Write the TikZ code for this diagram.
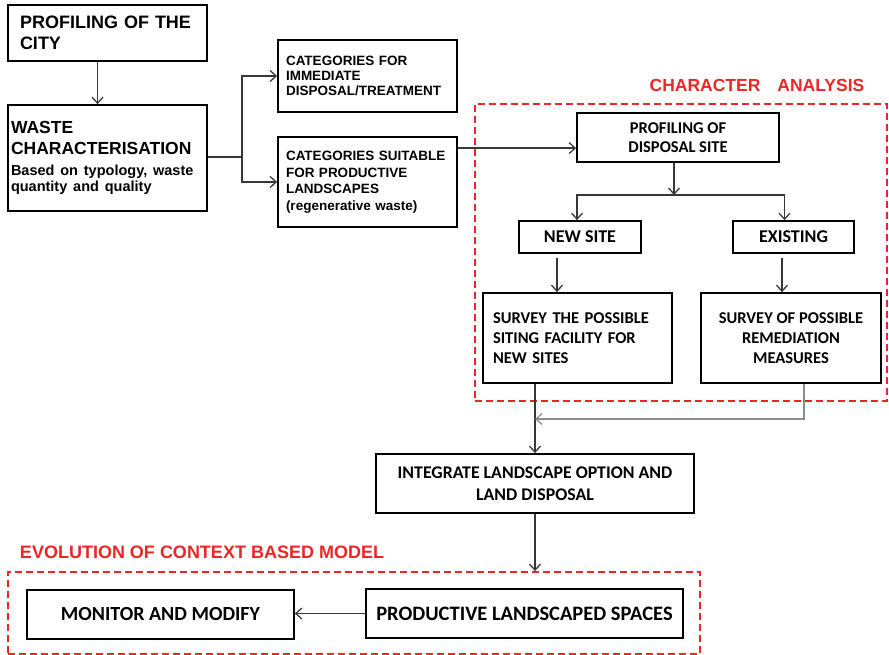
\documentclass[tikz,border=0pt]{standalone}
\usepackage{fontspec}
\usetikzlibrary{arrows.meta}
\setmainfont{Liberation Sans}
\newfontfamily\calibri{Carlito}
\definecolor{markred}{RGB}{236,38,38}
\definecolor{linedark}{RGB}{55,55,55}
\definecolor{linegray}{RGB}{140,140,140}

\begin{document}
\begin{tikzpicture}[x=1pt,y=-1pt]
  \tikzstyle{box}=[rectangle,draw,line width=1.8pt,inner sep=0pt,font=\bfseries]
  \tikzstyle{redbox}=[rectangle,draw=markred,line width=1.8pt,dash pattern=on 7pt off 4pt,inner sep=0pt]
  \tikzstyle{redtitle}=[text=markred,font=\bfseries\fontsize{17.5}{20}\selectfont]
  \tikzstyle{link}=[draw=linedark,line width=1.3pt,-{Straight Barb[length=6pt,width=11pt]}]
  \tikzstyle{graylink}=[link,draw=linegray]
  \useasboundingbox (0,0) rectangle (889,655);

  \node [redbox,minimum width=412pt,minimum height=297pt] (charbox) at (681,252.5) {};
  \node [redbox,minimum width=692pt,minimum height=82pt] (evolbox) at (354,613) {};
  \node [redtitle] (chartitle) at (757,85) {CHARACTER\hspace{17pt}ANALYSIS};
  \node [redtitle,font=\bfseries\fontsize{18}{20}\selectfont] (evoltitle) at (202,552) {EVOLUTION OF CONTEXT BASED MODEL};

  \node [box,text width=175pt,inner xsep=12pt,minimum height=56pt,align=left,font=\bfseries\fontsize{18}{21}\selectfont] (city) at (107.5,33) {PROFILING OF THE\\CITY};
  \node [box,text width=193pt,inner xsep=3pt,minimum height=106pt,align=left,font=\bfseries\fontsize{17.5}{16}\selectfont] (waste) at (107.5,158)
    {WASTE\\[5pt]CHARACTERISATION\\[5pt]\fontsize{14.5}{16}\selectfont Based on typology, waste\\quantity and quality};
  \node [box,text width=163pt,inner xsep=8pt,minimum height=72pt,align=left,font=\bfseries\fontsize{13.5}{15}\selectfont] (cat1) at (367.5,76) {CATEGORIES FOR\\IMMEDIATE\\DISPOSAL/TREATMENT};
  \node [box,text width=163pt,inner xsep=8pt,minimum height=90pt,align=left,font=\bfseries\fontsize{13.5}{16.5}\selectfont] (cat2) at (367.5,182) {CATEGORIES SUITABLE\\FOR PRODUCTIVE\\LANDSCAPES\\(regenerative waste)};

  \node [box,minimum width=202pt,minimum height=49pt,align=center,font=\calibri\bfseries\fontsize{16.5}{19}\selectfont] (site) at (678,137.5) {PROFILING OF\\DISPOSAL SITE};
  \node [box,minimum width=122pt,minimum height=32pt,font=\calibri\bfseries\fontsize{18}{21}\selectfont] (newsite) at (580,237) {NEW SITE};
  \node [box,minimum width=121pt,minimum height=32pt,font=\calibri\bfseries\fontsize{18}{21}\selectfont] (existing) at (793.5,237) {EXISTING};
  \node [box,text width=169pt,inner xsep=10pt,minimum height=90pt,align=left,font=\calibri\bfseries\fontsize{16.5}{20}\selectfont] (survnew) at (577.5,338) {SURVEY THE POSSIBLE\\SITING FACILITY FOR\\NEW SITES};
  \node [box,minimum width=180pt,minimum height=90pt,align=center,font=\calibri\bfseries\fontsize{16.5}{20}\selectfont] (survold) at (791,338) {SURVEY OF POSSIBLE\\REMEDIATION\\MEASURES};

  \node [box,minimum width=318pt,minimum height=59pt,align=center,font=\calibri\bfseries\fontsize{17.8}{22}\selectfont] (integ) at (535,483.5) {INTEGRATE LANDSCAPE OPTION AND\\LAND DISPOSAL};
  \node [box,minimum width=317pt,minimum height=49pt,font=\calibri\bfseries\fontsize{20.5}{24}\selectfont] (prod) at (524.5,613.5) {PRODUCTIVE LANDSCAPED SPACES};
  \node [box,minimum width=267pt,minimum height=49pt,font=\calibri\bfseries\fontsize{20}{24}\selectfont] (monitor) at (160.5,614.5) {MONITOR AND MODIFY};

  \coordinate (split) at (242,157);
  \coordinate (fork) at (674,195);
  \coordinate (merge) at (535,419);

  \draw [link] ([xshift=-10pt]city.south) -- ([xshift=-10pt]waste.north);
  \draw [link,-] (waste.east |- split) -- (split);
  \draw [link] (split) |- (cat1.west);
  \draw [link] (split) |- (cat2.west);
  \draw [link] ([yshift=-12pt]cat2.north east) coordinate (c2) -- (c2 -| site.west);
  \draw [link] (fork |- site.south) -- (fork);
  \draw [link] (fork) -| ([xshift=-3pt]newsite.north);
  \draw [link] (fork) -| ([xshift=-9pt]existing.north);
  \draw [link,shorten <=4pt] ([xshift=-23pt]newsite.south) -- ([xshift=-23pt]newsite.south |- survnew.north);
  \draw [link,shorten <=4pt] ([xshift=-11.5pt]existing.south) -- ([xshift=-11.5pt]existing.south |- survold.north);
  \draw [link] (integ.north |- survnew.south) -- (integ.north);
  \draw [graylink] ([xshift=13pt]survold.south) |- (merge);
  \draw [link] (integ.south) -- (integ.south |- evolbox.north);
  \draw [link] (prod.west) -- (prod.west -| monitor.east);
\end{tikzpicture}
\end{document}
